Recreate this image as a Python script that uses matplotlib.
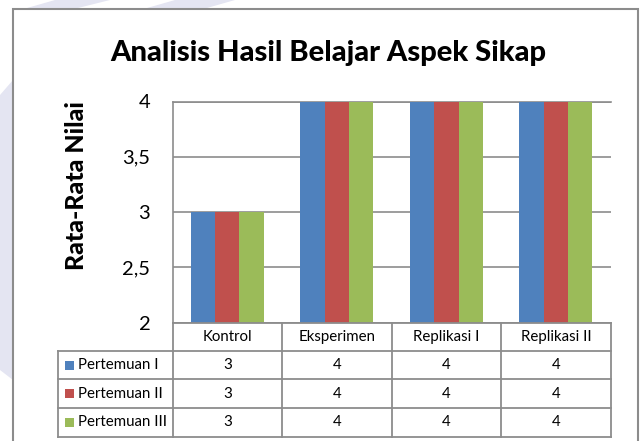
import numpy as np
import matplotlib.pyplot as plt
from matplotlib.patches import Rectangle, Polygon
from matplotlib.transforms import blended_transform_factory

categories = ["Kontrol", "Eksperimen", "Replikasi I", "Replikasi II"]
series_names = ["Pertemuan I", "Pertemuan II", "Pertemuan III"]
pertemuan_1 = [3, 4, 4, 4]
pertemuan_2 = [3, 4, 4, 4]
pertemuan_3 = [3, 4, 4, 4]
y_ticks = [2, 2.5, 3, 3.5, 4]
y_tick_labels = ["2", "2,5", "3", "3,5", "4"]

series = [pertemuan_1, pertemuan_2, pertemuan_3]
colors = ["#4F81BD", "#C0504D", "#9BBB59"]
line_c = "#8C8C8C"

plt.rcParams['font.family'] = ['Lato', 'DejaVu Sans']

W, H = 640, 441
fig = plt.figure(figsize=(6.4, 4.41), dpi=100)
fig.patch.set_facecolor("white")


def fx(x):
    return x / W


def fy(y):
    return 1 - y / H


# faint watermark shapes behind the chart
for pts in [[(55, 0), (110, 0), (70, 10), (20, 10)],
            [(175, 0), (235, 0), (200, 10), (140, 10)],
            [(0, 95), (13, 80), (13, 380), (0, 370)]]:
    fig.patches.append(Polygon([(fx(a), fy(b)) for a, b in pts], closed=True,
                               transform=fig.transFigure, facecolor="#E4E5F2",
                               edgecolor="none", zorder=-3))

# chart frame
fig.patches.append(Rectangle((fx(13), fy(450)), fx(638) - fx(13), fy(9) - fy(450),
                             transform=fig.transFigure, facecolor="white",
                             edgecolor=line_c, linewidth=1.5, zorder=-2))

# plot area in pixels
L, R, T, B = 172.5, 610.7, 101.5, 322.7
ax = fig.add_axes([fx(L), fy(B), fx(R) - fx(L), fy(T) - fy(B)])
ax.set_facecolor("none")

x = np.arange(len(categories))
bw = 0.222
for i, vals in enumerate(series):
    ax.bar(x + (i - 1) * bw, vals, width=bw, color=colors[i], zorder=3,
           edgecolor="none")

ax.set_xlim(-0.5, len(categories) - 0.5)
ax.set_ylim(2, 4)
ax.set_yticks(y_ticks, y_tick_labels)
ax.set_xticks([])
ax.tick_params(axis="y", length=0, pad=16, labelsize=14.5)
ax.yaxis.grid(True, color=line_c, linewidth=1.2, zorder=0)
ax.set_axisbelow(True)
for s in ["right", "bottom"]:
    ax.spines[s].set_visible(False)
ax.spines["left"].set_color(line_c)
ax.spines["left"].set_linewidth(1.2)
ax.spines["top"].set_color(line_c)
ax.spines["top"].set_linewidth(1.2)

fig.text(fx(328), fy(53), "Analisis Hasil Belajar Aspek Sikap", ha="center",
         va="center", fontsize=21, fontweight="black")
fig.text(fx(76), fy(186), "Rata-Rata Nilai", rotation=90, ha="center",
         va="center", fontsize=18, fontweight="black")

# data table below the plot
tr = blended_transform_factory(ax.transData, fig.transFigure)
row_y = [322.7, 350.7, 379.3, 408.0, 436.7]
col_x = [L + (R - L) * k / len(categories) for k in range(len(categories) + 1)]
tl = 58.3
lw = 1.3
ff = fig.transFigure

# horizontal lines
fig.add_artist(plt.Line2D([fx(L), fx(R)], [fy(row_y[0])] * 2, transform=ff,
                          color=line_c, lw=lw))
for yy in row_y[1:]:
    fig.add_artist(plt.Line2D([fx(tl), fx(R)], [fy(yy)] * 2, transform=ff,
                              color=line_c, lw=lw))
# vertical lines
fig.add_artist(plt.Line2D([fx(tl), fx(tl)], [fy(row_y[1]), fy(row_y[-1])],
                          transform=ff, color=line_c, lw=lw))
for xx in col_x:
    fig.add_artist(plt.Line2D([fx(xx), fx(xx)], [fy(row_y[0]), fy(row_y[-1])],
                              transform=ff, color=line_c, lw=lw))

fs = 10.8
for j, cat in enumerate(categories):
    fig.text(x[j], fy((row_y[0] + row_y[1]) / 2), cat, transform=tr,
             ha="center", va="center", fontsize=fs)
for i, (name, vals) in enumerate(zip(series_names, series)):
    yc = (row_y[i + 1] + row_y[i + 2]) / 2
    fig.patches.append(Rectangle((fx(65), fy(yc + 4.5)), fx(9), 9 / H,
                                 transform=ff, facecolor=colors[i],
                                 edgecolor="none"))
    fig.text(fx(78), fy(yc), name, ha="left", va="center", fontsize=fs)
    for j, v in enumerate(vals):
        fig.text(x[j], fy(yc), f"{v:g}", transform=tr, ha="center",
                 va="center", fontsize=fs)

fig.savefig("out.png", dpi=100)
